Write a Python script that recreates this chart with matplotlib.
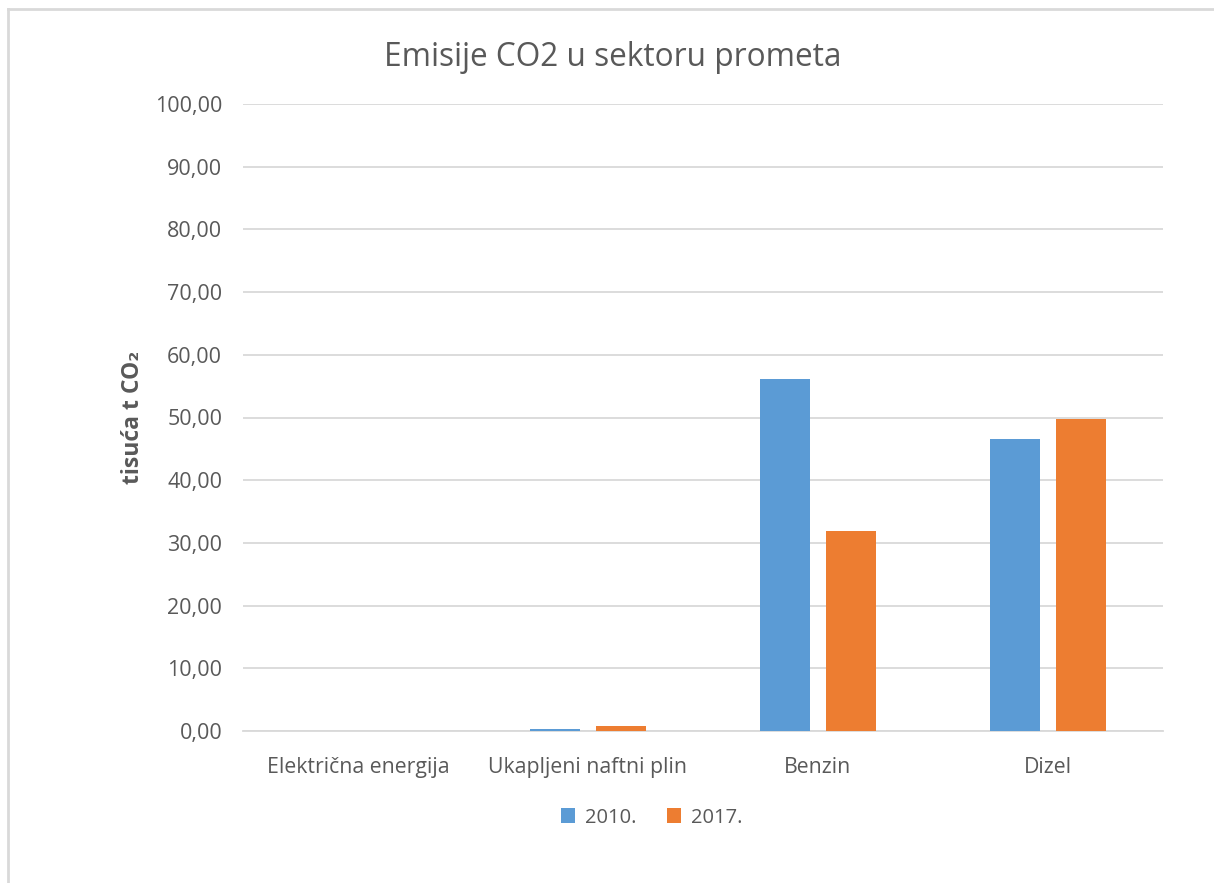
import numpy as np
import matplotlib.pyplot as plt
from matplotlib.lines import Line2D

categories = ['Električna energija', 'Ukapljeni naftni plin', 'Benzin', 'Dizel']
years = ['2010.', '2017.']
values_2010 = [0.0, 0.35, 56.1, 46.6]
values_2017 = [0.0, 0.8, 31.9, 49.7]
yticks = np.arange(0, 101, 10)

colors = ['#5B9BD5', '#ED7D31']
text_color = '#595959'

plt.rcParams['font.family'] = ['Open Sans', 'DejaVu Sans']

fig = plt.figure(figsize=(12.14, 8.83), dpi=100)
ax = fig.add_axes([243 / 1214, 1 - 731 / 883, 920 / 1214, 627 / 883])

x = np.arange(len(categories))
width = 0.218
offset = 0.144
ax.bar(x - offset, values_2010, width, color=colors[0], label=years[0], zorder=3)
ax.bar(x + offset, values_2017, width, color=colors[1], label=years[1], zorder=3)

ax.set_xlim(-0.5, len(categories) - 0.5)
ax.set_ylim(0, 100)
ax.set_yticks(yticks)
ax.set_yticklabels([f'{v:.2f}'.replace('.', ',') for v in yticks])
ax.set_xticks(x)
ax.set_xticklabels(categories)
ax.tick_params(axis='y', length=0, labelsize=15.5, labelcolor=text_color, pad=15)
ax.tick_params(axis='x', length=0, labelsize=15.3, labelcolor=text_color, pad=19)

ax.grid(axis='y', color='#D9D9D9', linewidth=1.3, zorder=0)
for s in ['top', 'right', 'left']:
    ax.spines[s].set_visible(False)
ax.spines['bottom'].set_color('#D9D9D9')
ax.spines['bottom'].set_linewidth(1.3)

ax.set_ylabel('tisuća t CO₂', fontsize=16.5, fontweight='bold', color=text_color, labelpad=7)

fig.text(0.505, 1 - 57 / 883, 'Emisije CO2 u sektoru prometa', ha='center', va='center',
         fontsize=22.8, color=text_color)

ax.legend(loc='center', bbox_to_anchor=(0.444, -0.138), ncol=2, frameon=False,
          fontsize=14.5, labelcolor=text_color, handlelength=0.7, handleheight=0.7,
          handletextpad=0.5, columnspacing=1.5)

# outer chart frame
fig.add_artist(Line2D([8 / 1214, 8 / 1214], [0, 1 - 9 / 883], color='#D9D9D9', linewidth=2,
                      transform=fig.transFigure))
fig.add_artist(Line2D([8 / 1214, 1], [1 - 9 / 883, 1 - 9 / 883], color='#D9D9D9', linewidth=2,
                      transform=fig.transFigure))

fig.savefig('out.png', dpi=100)
